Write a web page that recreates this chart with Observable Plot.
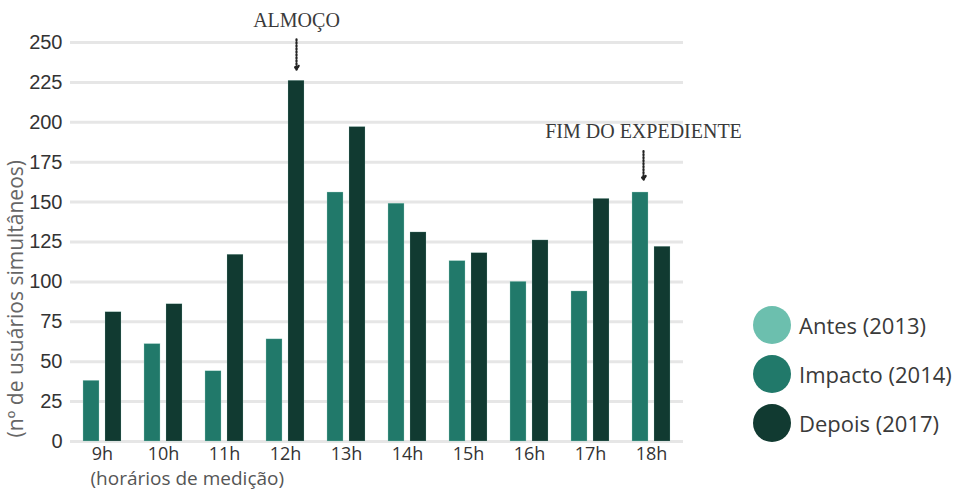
<!DOCTYPE html>
<html><head><meta charset="utf-8">
<script src="https://cdn.jsdelivr.net/npm/d3@7"></script>
<script src="https://cdn.jsdelivr.net/npm/@observablehq/plot@0.6"></script>
<style>
body{margin:0;background:#fff;font-family:"Liberation Sans",sans-serif;}
#wrap{position:relative;width:967px;height:494px;}
#chart{position:absolute;left:0;top:0;}
#legend{position:absolute;left:753px;top:300px;}
.item{display:flex;align-items:center;height:49px;}
.sw{width:38px;height:38px;border-radius:50%;margin-right:8px;}
.lb{font-family:"Open Sans",sans-serif;font-size:22px;color:#3a3a3a;}
</style></head><body><div id="wrap"><div id="chart"></div><div id="legend"></div></div>
<script>
const hours = ["9h","10h","11h","12h","13h","14h","15h","16h","17h","18h"];
const impacto = [38, 61, 44, 64, 156, 149, 113, 100, 94, 156];
const depois = [81, 86, 117, 226, 197, 131, 118, 126, 152, 122];
const series = ["Antes (2013)", "Impacto (2014)", "Depois (2017)"];
const colors = ["#6cbfae", "#21796a", "#113a31"];
const yTicks = [0, 25, 50, 75, 100, 125, 150, 175, 200, 225, 250];
const annotLabels = ["ALMOÇO", "FIM DO EXPEDIENTE"];
const annotHours = ["12h", "18h"];
const annotSeries = ["Depois (2017)", "Impacto (2014)"];
const annotTextY = [264, 194];
const annotArrowFrom = [252, 182];
const annotArrowTo = [233, 164];
const yLabel = "(nº de usuários simultâneos)";
const xLabel = "(horários de medição)";

const rows = hours.map((h, i) => ({hour: h, impacto: impacto[i], depois: depois[i]}));
const annots = annotLabels.map((t, i) => ({label: t, hour: annotHours[i], series: annotSeries[i],
  ty: annotTextY[i], y1: annotArrowFrom[i], y2: annotArrowTo[i]}));

const annotMarks = annots.flatMap(a => {
  const dx = a.series === series[2] ? 11 : -8;
  return [
    Plot.text([a], {x: "hour", y: "ty", text: "label", dx, fontSize: 20, fill: "#3a3a3a",
      fontFamily: "Liberation Serif"}),
    Plot.arrow([a], {x1: "hour", x2: "hour", y1: "y1", y2: "y2", dx, stroke: "#222",
      strokeWidth: 2.2, strokeDasharray: "1.2,1.8", headLength: 3, bend: 0})
  ];
});

const chart = Plot.plot({
  width: 770, height: 494,
  marginLeft: 70, marginRight: 87, marginTop: 42, marginBottom: 53,
  x: {domain: hours, paddingInner: 0.38, paddingOuter: 0.2, label: null},
  y: {domain: [0, 250], label: null},
  style: {background: "transparent"},
  marks: [
    Plot.ruleY(yTicks, {stroke: "#e6e6e6", strokeWidth: 3}),
    Plot.axisY(yTicks, {tickSize: 0, tickPadding: 8, fontSize: 20, fill: "#333", label: null,
      fontFamily: "Liberation Sans"}),
    Plot.axisX({tickSize: 0, tickPadding: 6, fontSize: 18, fill: "#333", label: null,
      fontFamily: "Open Sans"}),
    Plot.barY(rows, {x: "hour", y: "impacto", fill: colors[1], insetRight: 22,
      stroke: "#9fd3c7", strokeWidth: 0.5, strokeOpacity: 0.6}),
    Plot.barY(rows, {x: "hour", y: "depois", fill: colors[2], insetLeft: 22,
      stroke: "#9fd3c7", strokeWidth: 0.5, strokeOpacity: 0.4}),
    Plot.text([yLabel], {frameAnchor: "bottom-left", text: d => d, rotate: -90, textAnchor: "start",
      dx: -48, dy: -4, fontSize: 21, fill: "#666", fontFamily: "Open Sans"}),
    Plot.text([xLabel], {frameAnchor: "bottom-left", text: d => d, textAnchor: "start",
      dx: 20, dy: 43, fontSize: 19, fill: "#555", fontFamily: "Open Sans"}),
    ...annotMarks
  ]
});
document.getElementById("chart").append(chart);

const legend = d3.select("#legend");
series.forEach((s, i) => {
  const it = legend.append("div").attr("class", "item");
  it.append("div").attr("class", "sw").style("background", colors[i]);
  it.append("div").attr("class", "lb").text(s);
});
</script>
</body></html>
